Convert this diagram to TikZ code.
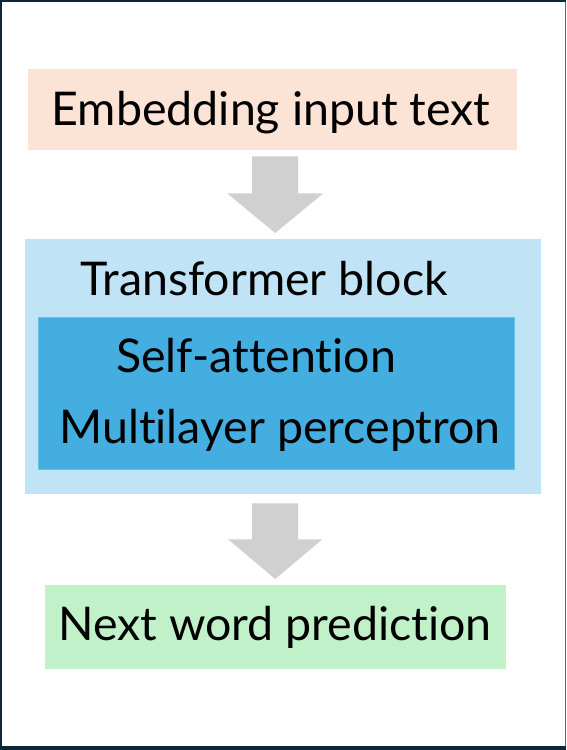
\documentclass[tikz,border=0pt]{standalone}
\usepackage{fontspec}
\setmainfont[Ligatures={NoCommon}]{Lato}
\usetikzlibrary{calc}
\definecolor{frame}{HTML}{0B2838}
\definecolor{framegray}{HTML}{5A6670}
\definecolor{peach}{HTML}{FBE3D6}
\definecolor{lightblue}{HTML}{C0E4F5}
\definecolor{midblue}{HTML}{44AEE0}
\definecolor{mint}{HTML}{C1F1C8}
\definecolor{arrowgray}{HTML}{D0D0D0}
\tikzset{
  box/.style={rectangle, draw=none, inner sep=0pt, anchor=north west},
  lbl/.style={inner sep=0pt, font=\fontsize{46.5}{52}\selectfont, text=black, anchor=base},
  fatarrow/.style={fill=arrowgray, draw=none}
}
\begin{document}
\begin{tikzpicture}[x=1pt,y=-1pt]
\useasboundingbox (0,0) rectangle (566,750);
\fill[white] (0,0) rectangle (566,750);
% frame
\fill[frame] (0,0) rectangle (566,2);
\fill[frame] (0,0) rectangle (2,750);
\fill[frame] (0,746) rectangle (566,750);
\fill[framegray] (564.5,2) rectangle (566,746);
% boxes
\node[box, fill=peach, minimum width=489pt, minimum height=81pt] (emb) at (28,69) {};
\node[box, fill=lightblue, minimum width=516pt, minimum height=255pt] (tb) at (25,239) {};
\node[box, fill=midblue, draw=midblue!80!white, line width=0.8pt, minimum width=476pt, minimum height=152pt] (inner) at (38,317) {};
\node[box, fill=mint, minimum width=461pt, minimum height=84pt] (nwp) at (45,585) {};
% texts
\node[lbl] (tEmb) at (271,125) {Embedding input text};
\node[lbl] (tTb) at (264,295) {Transformer block};
\node[lbl] (tSa) at (256,372) {Self-attention};
\node[lbl] (tMlp) at (280,443) {Multilayer perceptron};
\node[lbl] (tNwp) at (275,640) {Next word prediction};
% block arrows
\fill[fatarrow] ($(emb.south)+(-20.5,6)$) -- ($(emb.south)+(25.5,6)$) -- ($(emb.south)+(25.5,43)$)
  -- ($(emb.south)+(50.5,43)$) -- ($(tb.north)+(-8,-6)$) -- ($(emb.south)+(-45.5,43)$)
  -- ($(emb.south)+(-20.5,43)$) -- cycle;
\fill[fatarrow] ($(tb.south)+(-31,9)$) -- ($(tb.south)+(15,9)$) -- ($(tb.south)+(15,45)$)
  -- ($(tb.south)+(39,45)$) -- ($(nwp.north)+(-0.5,-6)$) -- ($(tb.south)+(-55,45)$)
  -- ($(tb.south)+(-31,45)$) -- cycle;
\end{tikzpicture}
\end{document}
